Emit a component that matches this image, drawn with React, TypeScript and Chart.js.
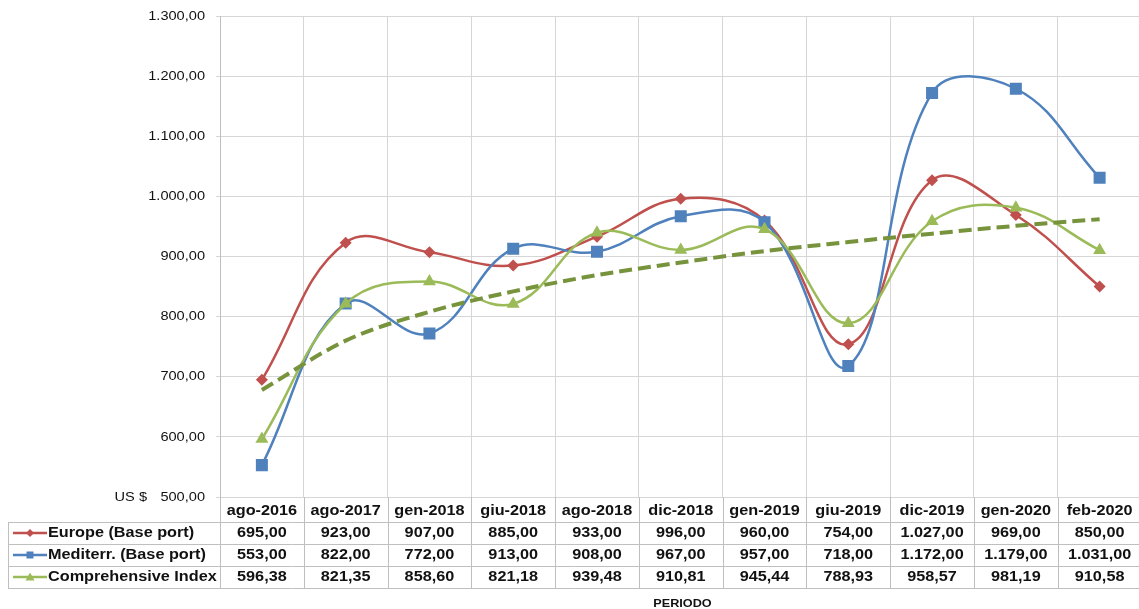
import React, { useEffect, useRef } from 'react';
import { Chart, registerables } from 'chart.js';

Chart.register(...registerables);

const categories = ['ago-2016', 'ago-2017', 'gen-2018', 'giu-2018', 'ago-2018', 'dic-2018', 'gen-2019', 'giu-2019', 'dic-2019', 'gen-2020', 'feb-2020'];
const europeValues = [695, 923, 907, 885, 933, 996, 960, 754, 1027, 969, 850];
const mediterrValues = [553, 822, 772, 913, 908, 967, 957, 718, 1172, 1179, 1031];
const comprehensiveValues = [596.38, 821.35, 858.6, 821.18, 939.48, 910.81, 945.44, 788.93, 958.57, 981.19, 910.58];
const trendValues = [678, 760, 808, 842, 869, 890, 909, 924, 938, 951, 962];
const seriesNames = ['Europe (Base port)', 'Mediterr. (Base port)', 'Comprehensive Index'];
const yMin = 500;
const yMax = 1300;
const yStep = 100;
const yUnit = 'US $';
const xTitle = 'PERIODO';

const RED = '#C0504D';
const BLUE = '#4F81BD';
const GREEN = '#9BBB59';
const TREND = '#77933C';
const GRID = '#D6D6D6';
const TEXT = '#111111';

const fmt = (v: number) => {
  const [i, d] = v.toFixed(2).split('.');
  return i.replace(/\B(?=(\d{3})+(?!\d))/g, '.') + ',' + d;
};

const drawText = (ctx: CanvasRenderingContext2D, text: string, x: number, y: number, align: CanvasTextAlign, font: string, sx: number) => {
  ctx.save();
  ctx.translate(x, y);
  ctx.scale(sx, 1);
  ctx.font = font;
  ctx.textAlign = align;
  ctx.textBaseline = 'middle';
  ctx.fillStyle = TEXT;
  ctx.fillText(text, 0, 0);
  ctx.restore();
};

const drawMarker = (ctx: CanvasRenderingContext2D, kind: number, x: number, y: number, color: string) => {
  ctx.save();
  ctx.fillStyle = color;
  ctx.beginPath();
  if (kind === 0) {
    const r = 4;
    ctx.moveTo(x, y - r); ctx.lineTo(x + r, y); ctx.lineTo(x, y + r); ctx.lineTo(x - r, y);
  } else if (kind === 1) {
    ctx.rect(x - 3.5, y - 3.5, 7, 7);
  } else {
    ctx.moveTo(x, y - 4.5); ctx.lineTo(x + 4.5, y + 3.5); ctx.lineTo(x - 4.5, y + 3.5);
  }
  ctx.closePath();
  ctx.fill();
  ctx.restore();
};

const tablePlugin = {
  id: 'dataTable',
  afterDraw(chart: any) {
    const ctx: CanvasRenderingContext2D = chart.ctx;
    const xs = chart.scales.x;
    const ys = chart.scales.y;
    const ca = chart.chartArea;
    const centers = categories.map((_, i) => xs.getPixelForValue(i));
    const half = (centers[1] - centers[0]) / 2;
    const bounds = [ca.left, ...centers.map((c) => c + half)];
    const headerH = 25;
    const rowH = 22;
    const tableTop = ca.bottom + headerH;
    const tableBottom = tableTop + rowH * 3;
    const legendLeft = 8;

    const tickFont = 'normal 13.5px "Liberation Sans", Arial, sans-serif';
    ys.ticks.forEach((t: any) => {
      const y = ys.getPixelForValue(t.value);
      drawText(ctx, fmt(t.value), ca.left - 15, y, 'right', tickFont, 1.08);
    });
    drawText(ctx, yUnit, ca.left - 73, ys.getPixelForValue(yMin), 'right', tickFont, 1.08);

    ctx.save();
    ctx.strokeStyle = '#BFBFBF';
    ctx.lineWidth = 1;
    ctx.beginPath();
    bounds.forEach((b) => {
      const x = Math.round(b) + 0.5;
      ctx.moveTo(x, ca.bottom);
      ctx.lineTo(x, tableBottom);
    });
    ctx.moveTo(legendLeft + 0.5, tableTop);
    ctx.lineTo(legendLeft + 0.5, tableBottom);
    for (let r = 0; r <= 3; r++) {
      const y = Math.round(tableTop + r * rowH) + 0.5;
      ctx.moveTo(legendLeft, y);
      ctx.lineTo(ca.right, y);
    }
    ctx.stroke();
    ctx.restore();

    const boldFont = 'bold 14.5px "Liberation Sans", Arial, sans-serif';
    categories.forEach((c, i) => {
      drawText(ctx, c, centers[i], ca.bottom + headerH / 2 + 1, 'center', boldFont, 1.12);
    });

    const rows = [europeValues, mediterrValues, comprehensiveValues];
    const rowColors = [RED, BLUE, GREEN];
    rows.forEach((vals, r) => {
      const y = tableTop + r * rowH + rowH / 2;
      ctx.save();
      ctx.strokeStyle = rowColors[r];
      ctx.lineWidth = 2.5;
      ctx.beginPath();
      ctx.moveTo(13, y);
      ctx.lineTo(47, y);
      ctx.stroke();
      ctx.restore();
      drawMarker(ctx, r, 30, y, rowColors[r]);
      drawText(ctx, seriesNames[r], 48, y, 'left', boldFont, 1.12);
      vals.forEach((v, i) => {
        drawText(ctx, fmt(v), centers[i], y, 'center', boldFont, 1.12);
      });
    });

    drawText(ctx, xTitle, (ca.left + 1139) / 2 + 3, tableBottom + 16, 'center', 'bold 11px "Liberation Sans", Arial, sans-serif', 1.15);
  },
};

export default function App() {
  const ref = useRef<HTMLCanvasElement | null>(null);
  useEffect(() => {
    if (!ref.current) return;
    const chart = new Chart(ref.current, {
      type: 'line',
      data: {
        labels: categories,
        datasets: [
          {
            label: 'Trend',
            data: trendValues,
            borderColor: TREND,
            borderWidth: 4,
            borderDash: [13, 6],
            pointRadius: 0,
            cubicInterpolationMode: 'monotone',
            fill: false,
            order: 0,
          },
          {
            label: seriesNames[2],
            data: comprehensiveValues,
            borderColor: GREEN,
            backgroundColor: GREEN,
            borderWidth: 2.5,
            pointStyle: 'triangle',
            pointRadius: 7.5,
            pointBorderWidth: 0,
            tension: 0.4,
            fill: false,
            order: 1,
          },
          {
            label: seriesNames[1],
            data: mediterrValues,
            borderColor: BLUE,
            backgroundColor: BLUE,
            borderWidth: 2.5,
            pointStyle: 'rect',
            pointRadius: 8.5,
            pointBorderWidth: 0,
            tension: 0.4,
            fill: false,
            order: 2,
          },
          {
            label: seriesNames[0],
            data: europeValues,
            borderColor: RED,
            backgroundColor: RED,
            borderWidth: 2.5,
            pointStyle: 'rectRot',
            pointRadius: 6,
            pointBorderWidth: 0,
            tension: 0.4,
            fill: false,
            order: 3,
          },
        ],
      },
      options: {
        animation: false,
        responsive: false,
        devicePixelRatio: 1,
        layout: { padding: { top: 16, left: 0, right: 0, bottom: 0 } },
        plugins: { legend: { display: false }, tooltip: { enabled: false }, title: { display: false } },
        scales: {
          x: {
            type: 'category',
            offset: true,
            grid: { offset: true, color: GRID, lineWidth: 1, drawTicks: false },
            border: { display: false },
            ticks: { display: false },
            afterFit: (s: any) => { s.height = 112; },
          },
          y: {
            min: yMin,
            max: yMax,
            ticks: { display: false, stepSize: yStep },
            grid: { color: GRID, lineWidth: 1, drawTicks: true, tickLength: 4 },
            border: { display: true, color: '#BFBFBF' },
            afterFit: (s: any) => { s.width = 220; },
          },
        },
      },
      plugins: [tablePlugin],
    } as any);
    return () => chart.destroy();
  }, []);
  return (
    <div style={{ position: 'fixed', left: 0, top: 0, width: 1139, height: 609, overflow: 'hidden', background: '#fff' }}>
      <canvas ref={ref} width={1150} height={609} style={{ display: 'block' }} />
    </div>
  );
}
